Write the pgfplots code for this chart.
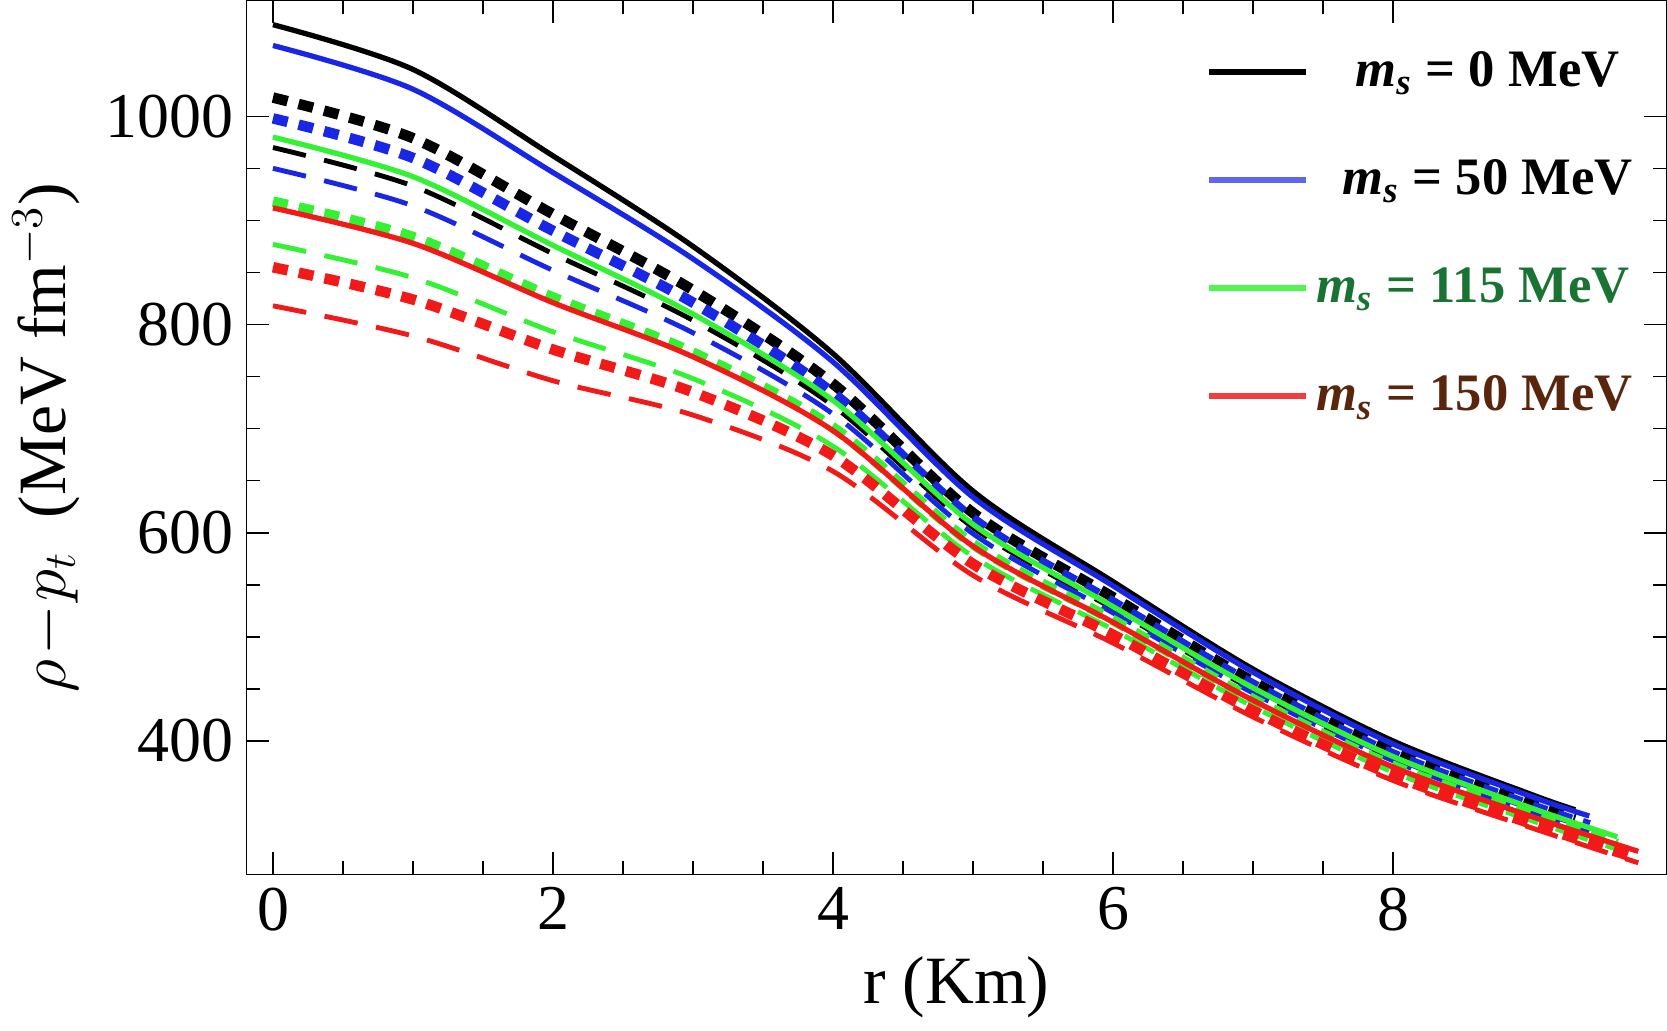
\documentclass[border=0pt]{standalone}
\usepackage{pgfplots}
\pgfplotsset{compat=1.18}
\usepackage{fontspec}
\setmainfont{Liberation Serif}
\definecolor{cb}{rgb}{0.1,0.15,0.9}
\definecolor{cg}{rgb}{0.2,0.95,0.2}
\definecolor{cr}{rgb}{0.95,0.1,0.1}
\definecolor{tg}{rgb}{0.1,0.45,0.2}
\definecolor{tr}{rgb}{0.35,0.15,0.05}
\newcommand{\ms}{\textit{m\textsubscript{s}}}
\begin{document}
\begin{tikzpicture}
\begin{axis}[scale only axis, width=13.28cm, height=8.17cm,
 xmin=-0.19, xmax=9.95, ymin=272, ymax=1111,
 xtick={0,2,4,6,8}, ytick={400,600,800,1000},
 minor x tick num=3, minor y tick num=3,
 tick style={black,thin}, major tick length=6pt, minor tick length=3.5pt,
 ticklabel style={font=\fontsize{17}{19}\selectfont},
 /pgf/number format/assume math mode=true,
 /pgf/number format/1000 sep={},
 xlabel={r (Km)}, ylabel={$\rho\!-\!p_t$\ \ (MeV fm$^{-3}$)},
 label style={font=\fontsize{18}{20}\selectfont},
 legend style={draw=none, fill=none, at={(0.99,0.96)}, anchor=north east,
   font=\fontsize{14}{16}\selectfont\bfseries, row sep=14pt},
 legend cell align=left,
 legend image code/.code={\draw[line width=1.6pt] (0cm,0cm) -- (0.9cm,0cm);},
]
\addlegendimage{black}\addlegendentry{\ \ \ \ms{} = 0 MeV}
\addlegendimage{cb!70!white}\addlegendentry{\ \ \ms{} = 50 MeV}
\addlegendimage{cg!85!white}\addlegendentry{\textcolor{tg}{\ms{} = 115 MeV}}
\addlegendimage{cr!85!white}\addlegendentry{\textcolor{tr}{\ms{} = 150 MeV}}
\tikzset{sol/.style={line width=1.4pt}, dot/.style={line width=2.8pt, dash pattern=on 4pt off 3pt}, dsh/.style={line width=1.3pt, dash pattern=on 9pt off 5pt}}
% dashed
\addplot[forget plot, smooth, dsh, black] coordinates {(0,970)(1,933)(2,868)(3,804)(4,722)(5,605)(6,527)(7,449)(8,383)(9,334)(9.3,320)};
\addplot[forget plot, smooth, dsh, cb] coordinates {(0,950)(1,914)(2,852)(3,792)(4,714)(5,599)(6,523)(7,446)(8,381)(9,331)(9.4,313)};
\addplot[forget plot, smooth, dsh, cg] coordinates {(0,877)(1,845)(2,793)(3,748)(4,683)(5,577)(6,507)(7,433)(8,370)(9,323)(9.6,296)};
\addplot[forget plot, smooth, dsh, cr] coordinates {(0,818)(1,789)(2,746)(3,713)(4,659)(5,559)(6,494)(7,423)(8,362)(9,316)(9.75,283)};
% dotted
\addplot[forget plot, smooth, dot, black] coordinates {(0,1018)(1,979)(2,906)(3,833)(4,743)(5,619)(6,538)(7,457)(8,390)(9,340)(9.3,326)};
\addplot[forget plot, smooth, dot, cb] coordinates {(0,998)(1,960)(2,890)(3,821)(4,734)(5,613)(6,533)(7,454)(8,387)(9,337)(9.4,319)};
\addplot[forget plot, smooth, dot, cg] coordinates {(0,918)(1,884)(2,826)(3,773)(4,701)(5,589)(6,516)(7,440)(8,376)(9,328)(9.6,301)};
\addplot[forget plot, smooth, dot, cr] coordinates {(0,855)(1,824)(2,776)(3,735)(4,674)(5,570)(6,502)(7,429)(8,367)(9,320)(9.75,287)};
% solid
\addplot[forget plot, smooth, sol, black] coordinates {(0,1088)(1,1045)(2,962)(3,875)(4,772)(5,640)(6,553)(7,469)(8,400)(9,348)(9.3,334)};
\addplot[forget plot, smooth, sol, cb] coordinates {(0,1068)(1,1026)(2,946)(3,863)(4,764)(5,634)(6,549)(7,466)(8,397)(9,346)(9.4,328)};
\addplot[forget plot, smooth, sol, cg] coordinates {(0,980)(1,942)(2,876)(3,810)(4,727)(5,608)(6,529)(7,451)(8,385)(9,335)(9.6,308)};
\addplot[forget plot, smooth, sol, cr] coordinates {(0,912)(1,878)(2,821)(3,769)(4,698)(5,587)(6,514)(7,439)(8,375)(9,327)(9.75,294)};
\end{axis}
\end{tikzpicture}
\end{document}
